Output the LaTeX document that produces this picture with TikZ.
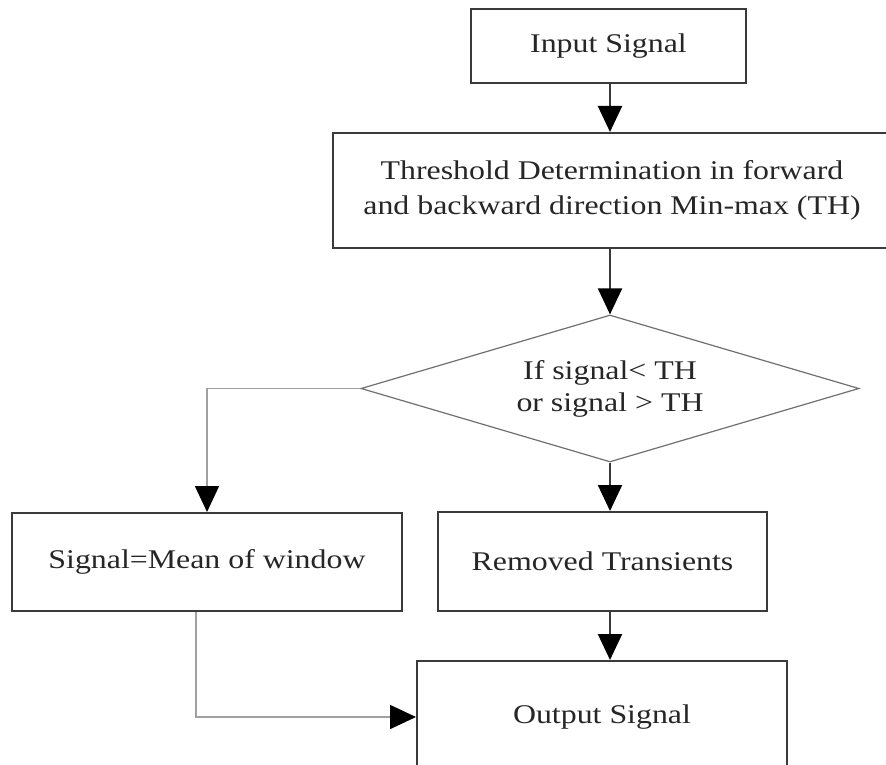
\documentclass[tikz,border=0pt]{standalone}
\usepackage{fontspec}
\setmainfont[FakeStretch=1.18]{Liberation Serif}
\usetikzlibrary{shapes.geometric,arrows.meta,calc}
\definecolor{boxc}{HTML}{3A3A3A}
\definecolor{txtc}{HTML}{262626}
\definecolor{thinc}{HTML}{A0A0A0}
\definecolor{diac}{HTML}{707070}
\begin{document}
\begin{tikzpicture}[x=1pt,y=1pt,
  box/.style={draw=boxc, line width=2pt, rectangle, inner sep=0pt, align=center,
    text=txtc, font=\fontsize{27}{35}\selectfont},
  decision/.style={draw=diac, line width=1.2pt, diamond, shape aspect=3.4, inner sep=0pt,
    align=center, text=txtc, font=\fontsize{27}{32}\selectfont},
  arr/.style={draw=boxc, line width=2pt, -{Triangle[width=24pt,length=26pt,color=black]}},
  thinarr/.style={draw=thinc, line width=1.6pt, -{Triangle[width=24pt,length=26pt,color=black]}}
]
\useasboundingbox (0,0) rectangle (886,-765);
\fill[white] (0,0) rectangle (886,-765);
\clip (0,0) rectangle (886,-765);

\node[box, minimum width=275pt, minimum height=74pt] (in) at (608.5,-46) {Input Signal};
\node[box, minimum width=558pt, minimum height=115pt] (th) at (612,-190.5)
  {Threshold Determination in forward\\and backward direction Min-max (TH)};
\node[decision, minimum width=498pt, minimum height=147pt] (dia) at (610,-388.5)
  {If signal< TH\\or signal > TH};
\node[box, minimum width=390pt, minimum height=98pt] (sig) at (207,-562) {Signal=Mean of window};
\node[box, minimum width=329pt, minimum height=99pt] (rem) at (602.5,-561.5) {Removed Transients};
\node[box, minimum width=370pt, minimum height=112pt] (out) at (602,-717) {Output Signal};

\draw[arr] (in.south -| dia.north) -- (th.north -| dia.north);
\draw[arr] (th.south -| dia.north) -- (dia.north);
\draw[arr] (dia.south) -- (dia.south |- rem.north);
\draw[arr] (rem.south -| dia.south) -- (out.north -| dia.south);
\draw[thinarr] (dia.west) -| (sig.north);
\draw[thinarr] ($(sig.south)+(-11,0)$) |- (out.west);
\end{tikzpicture}
\end{document}
